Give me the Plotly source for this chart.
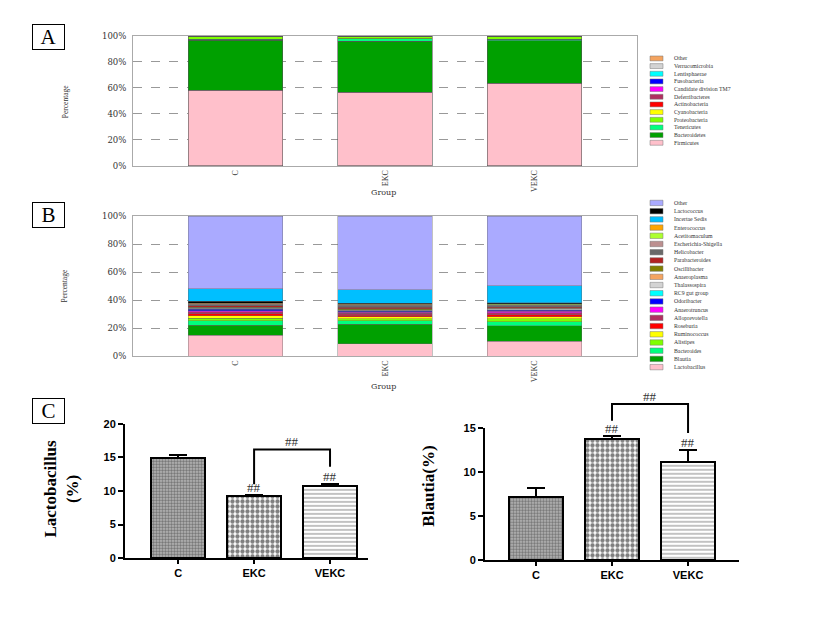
import plotly.graph_objects as go

W, H = 821, 618
PAGE_OFFSET = 8  # the page body margin pushes the figure 8px right and down

groups = ['C', 'EKC', 'VEKC']

# panel A, phylum level, stacked bottom -> top
phylum_names = ['Firmicutes', 'Bacteroidetes', 'Tenericutes', 'Proteobacteria', 'Cyanobacteria',
                'Actinobacteria', 'Deferribacteres', 'Candidate division TM7', 'Fusobacteria',
                'Lentisphaerae', 'Verrucomicrobia', 'Other']
phylum_colors = ['#FFC0CB', '#00A000', '#00FF7F', '#7FFF00', '#FFFF00', '#FF0000',
                 '#B03060', '#FF00FF', '#0000FF', '#00FFFF', '#D3D3D3', '#F4A460']
phylum_C = [58.0, 38.5, 0.8, 1.8, 0.2, 0.2, 0.1, 0.1, 0.05, 0.05, 0.1, 0.1]
phylum_EKC = [56.5, 39.0, 2.0, 1.5, 0.2, 0.2, 0.15, 0.1, 0.05, 0.05, 0.1, 0.15]
phylum_VEKC = [63.5, 32.5, 1.0, 2.0, 0.2, 0.2, 0.15, 0.1, 0.05, 0.05, 0.1, 0.15]

# panel B, genus level, stacked bottom -> top
genus_names = ['Lactobacillus', 'Blautia', 'Bacteroides', 'Alistipes', 'Ruminococcus', 'Roseburia',
               'Alloprevotella', 'Anaerotruncus', 'Odoribacter', 'RC9 gut group', 'Thalassospira',
               'Anaeroplasma', 'Oscillibacter', 'Parabacteroides', 'Helicobacter',
               'Escherichia-Shigella', 'Acetitomaculum', 'Enterococcus', 'Lactococcus',
               'Incertae Sedis', 'Other']
genus_colors = ['#FFC0CB', '#00A000', '#00FF7F', '#7FFF00', '#FFFF00', '#FF0000',
                '#B03060', '#FF00FF', '#0000FF', '#00FFFF', '#D3D3D3',
                '#F4A460', '#808000', '#B22222', '#696969',
                '#BC8F8F', '#ADFF2F', '#FFA500', '#000000',
                '#00BFFF', '#AAAAFF']
genus_C = [14.9, 7.1, 3.2, 2.0, 1.6, 1.4, 1.5, 0.8, 0.9, 0.5, 0.3,
           0.4, 0.5, 0.8, 0.5, 0.5, 0.4, 0.5, 1.3, 9.2, 51.7]
genus_EKC = [9.0, 13.7, 2.5, 1.5, 1.3, 1.2, 1.4, 0.8, 0.5, 0.4, 0.4,
             0.5, 0.8, 0.8, 1.2, 0.4, 0.3, 0.3, 0.8, 9.7, 52.5]
genus_VEKC = [10.8, 11.1, 2.8, 2.0, 1.5, 1.3, 1.6, 1.0, 0.8, 0.4, 0.4,
              0.4, 0.5, 0.8, 0.6, 0.5, 0.4, 0.4, 1.0, 11.9, 49.8]
# order of the key in the picture, top -> bottom
genus_key = ['Other', 'Lactococcus', 'Incertae Sedis', 'Enterococcus', 'Acetitomaculum',
             'Escherichia-Shigella', 'Helicobacter', 'Parabacteroides', 'Oscillibacter',
             'Anaeroplasma', 'Thalassospira', 'RC9 gut group', 'Odoribacter', 'Anaerotruncus',
             'Alloprevotella', 'Roseburia', 'Ruminococcus', 'Alistipes', 'Bacteroides',
             'Blautia', 'Lactobacillus']

# panel C, mean and sem
lacto_mean = [14.9, 9.2, 10.8]
lacto_sem = [0.4, 0.2, 0.3]
blautia_mean = [7.2, 13.7, 11.1]
blautia_sem = [1.0, 0.4, 1.4]


def px(x):
    return (x - PAGE_OFFSET) / W


def py(y):
    return 1 - (y - PAGE_OFFSET) / H


fig = go.Figure()

for i, name in enumerate(phylum_names):
    fig.add_trace(go.Bar(
        x=groups, y=[phylum_C[i], phylum_EKC[i], phylum_VEKC[i]],
        name=name, marker=dict(color=phylum_colors[i], line=dict(color='#555', width=0.6)),
        width=0.635, xaxis='x', yaxis='y', showlegend=False,
    ))

for i, name in enumerate(genus_names):
    fig.add_trace(go.Bar(
        x=groups, y=[genus_C[i], genus_EKC[i], genus_VEKC[i]],
        name=name, marker=dict(color=genus_colors[i], line=dict(color='#666', width=0.4)),
        width=0.635, xaxis='x2', yaxis='y2', showlegend=False,
    ))

patterns = dict(shape=['.', '.', '-'], size=[3, 5, 4], solidity=[0.55, 0.6, 0.3],
                fgcolor=['#333', '#000', '#333'], bgcolor=['#bbb', '#fff', '#fff'])

fig.add_trace(go.Bar(
    x=groups, y=lacto_mean, width=0.72, xaxis='x3', yaxis='y3', showlegend=False,
    marker=dict(color='white', line=dict(color='black', width=2), pattern=patterns),
    error_y=dict(type='data', array=lacto_sem, arrayminus=[0, 0, 0],
                 color='black', thickness=2, width=9),
))
fig.add_trace(go.Bar(
    x=groups, y=blautia_mean, width=0.72, xaxis='x4', yaxis='y4', showlegend=False,
    marker=dict(color='white', line=dict(color='black', width=2), pattern=patterns),
    error_y=dict(type='data', array=blautia_sem, arrayminus=[0, 0, 0],
                 color='black', thickness=2, width=9),
))

serif = 'Liberation Serif'
pct_vals = [0, 20, 40, 60, 80, 100]
pct_axis = dict(range=[0, 100], tickvals=pct_vals, ticktext=[f'{v}%' for v in pct_vals],
                showgrid=True, gridcolor='#999', griddash='dash', gridwidth=0.8,
                showline=True, linecolor='#aaa', linewidth=1, mirror=True, zeroline=False,
                ticks='', ticklabelstandoff=4,
                tickfont=dict(family='DejaVu Serif', size=8.5, color='#333'))
grp_axis = dict(range=[-0.686, 2.686], tickangle=-90, showline=True, linecolor='#aaa',
                linewidth=1, mirror=True, ticks='', showgrid=False,
                tickfont=dict(family=serif, size=8, color='#333'))
bar_y = dict(showline=True, linecolor='black', linewidth=2, ticks='outside', ticklen=5,
             tickwidth=2, tickcolor='black', showgrid=False, zeroline=False, dtick=5,
             tickfont=dict(family='Liberation Sans', size=11, color='black', weight='bold'))
bar_x = dict(showline=True, linecolor='black', linewidth=2, ticks='outside', ticklen=4,
             tickwidth=2, tickcolor='black', showgrid=False,
             tickfont=dict(family='Liberation Sans', size=11, color='black', weight='bold'))

fig.update_layout(
    width=W, height=H, margin=dict(l=0, r=0, t=0, b=0),
    paper_bgcolor='white', plot_bgcolor='white', barmode='stack',
    font=dict(family=serif),
    xaxis=dict(grp_axis, domain=[px(133), px(637)], anchor='y'),
    yaxis=dict(pct_axis, domain=[py(163), py(30)], anchor='x'),
    xaxis2=dict(grp_axis, domain=[px(133), px(637)], anchor='y2'),
    yaxis2=dict(pct_axis, domain=[py(357), py(214)], anchor='x2'),
    xaxis3=dict(bar_x, domain=[px(125), px(368)], range=[-0.7, 2.5], anchor='y3'),
    yaxis3=dict(bar_y, domain=[py(563), py(426)], range=[0, 20], anchor='x3'),
    xaxis4=dict(bar_x, domain=[px(485), px(739)], range=[-0.67, 2.67], anchor='y4'),
    yaxis4=dict(bar_y, domain=[py(565), py(430)], range=[0, 15], anchor='x4'),
)

ann = []
shapes = []


def label(x, y, text, size, color='#333', angle=0, weight='normal', xanchor='center',
          family=serif, **kw):
    ann.append(dict(x=px(x), y=py(y), xref='paper', yref='paper', text=text, textangle=angle,
                    xanchor=xanchor, yanchor='middle', showarrow=False,
                    font=dict(family=family, size=size, color=color, weight=weight), **kw))


# panel letters
for letter, cy in [('A', 31), ('B', 213), ('C', 413)]:
    label(48, cy, letter, 21, color='black', width=31, height=24, borderpad=0,
          bordercolor='black', borderwidth=1, bgcolor='white')

for cy, gy in [(97, 190), (285, 388)]:
    label(65, cy, 'Percentage', 7.5, angle=-90)
    label(383, gy, 'Group', 8, family='DejaVu Serif')

label(62, 492, 'Lactobacillus<br>(%)', 17, color='black', angle=-90, weight='bold')
label(429, 490, 'Blautia(%)', 17, color='black', angle=-90, weight='bold')

# significance brackets and ## marks, y given in data units of each panel
brackets = [('x3', 'y3', 20, [11.0, 16.2, 16.2, 13.6]),
            ('x4', 'y4', 15, [15.8, 17.7, 17.7, 14.4])]
for xr, yr, top, ys in brackets:
    pts = list(zip([1, 1, 2, 2], ys))
    path = 'M ' + ' L '.join(f'{xv},{yv / top}' for xv, yv in pts)
    shapes.append(dict(type='path', xref=xr, yref=f'{yr} domain', path=path,
                       line=dict(color='black', width=2)))

sig = [('x3', 'y3', 20, 'EKC', 9.4), ('x3', 'y3', 20, 'VEKC', 11.1), ('x3', 'y3', 20, 1.5, 16.2),
       ('x4', 'y4', 15, 'EKC', 14.1), ('x4', 'y4', 15, 'VEKC', 12.5), ('x4', 'y4', 15, 1.5, 17.7)]
for xr, yr, top, xv, yv in sig:
    ann.append(dict(x=xv, y=yv / top, xref=xr, yref=f'{yr} domain', text='##', showarrow=False,
                    yanchor='bottom', yshift=-2,
                    font=dict(family=serif, size=13, color='#333')))


def draw_key(names, colors, top, step, h):
    for k, (n, c) in enumerate(zip(names, colors)):
        y = top + k * step
        shapes.append(dict(type='rect', xref='paper', yref='paper', x0=px(650), x1=px(663),
                           y0=py(y + h / 2), y1=py(y - h / 2), fillcolor=c,
                           line=dict(color='#777', width=0.5)))
        label(672, y, n, 5.8, xanchor='left')


draw_key(phylum_names[::-1], phylum_colors[::-1], 53.3, 7.82, 5)
key_colors = [genus_colors[genus_names.index(n)] for n in genus_key]
draw_key(genus_key, key_colors, 200.7, 8.37, 5.5)

fig.update_layout(annotations=ann, shapes=shapes)

fig.write_html('out.html')
